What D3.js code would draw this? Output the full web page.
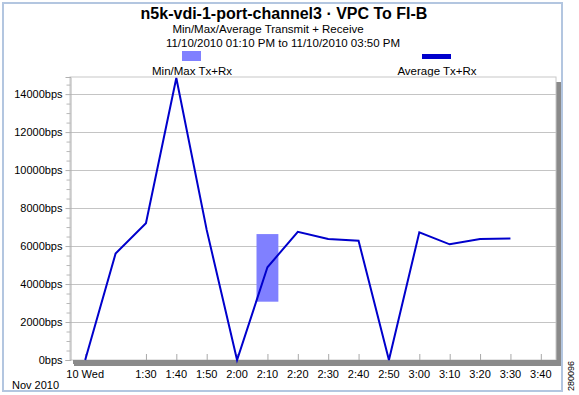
<!DOCTYPE html>
<html><head><meta charset="utf-8">
<script src="https://cdn.jsdelivr.net/npm/d3@7"></script>
<style>
html,body{margin:0;padding:0;background:#fff;}
svg{display:block;font-family:"Liberation Sans",Arial,sans-serif;}
</style></head>
<body>
<svg id="c" width="579" height="395"></svg>
<script>
// ---- data ----
const times = ["1:10","1:20","1:30","1:40","1:50","2:00","2:10","2:20","2:30","2:40","2:50","3:00","3:10","3:20","3:30"];
const avgTxRx = [0,5600,7200,14850,6850,0,4880,6750,6370,6280,0,6720,6090,6370,6400];
const minMaxTimes = ["2:10"];
const minTxRx = [3070];
const maxTxRx = [6630];
const xTickTimes = ["1:10","1:30","1:40","1:50","2:00","2:10","2:20","2:30","2:40","2:50","3:00","3:10","3:20","3:30","3:40"];
const xTickLabels = ["10 Wed","1:30","1:40","1:50","2:00","2:10","2:20","2:30","2:40","2:50","3:00","3:10","3:20","3:30","3:40"];
const yTicks = [0,2000,4000,6000,8000,10000,12000,14000];
const yMinorTicks = d3.range(0,15000,500);
const xDomain = ["1:05","3:45"];
const yMax = 14900;

const title = "n5k-vdi-1-port-channel3 \u00b7 VPC To FI-B";
const subtitle1 = "Min/Max/Average Transmit + Receive";
const subtitle2 = "11/10/2010 01:10 PM to 11/10/2010 03:50 PM";
const legendLabels = ["Min/Max Tx+Rx","Average Tx+Rx"];

// ---- helpers ----
const toMin = s => { const [h,m] = s.split(":").map(Number); return h*60+m; };

const svg = d3.select("#c");
const L = 70, R = 556, T = 77, B = 360;
const x = d3.scaleLinear().domain(xDomain.map(toMin)).range([L, R]);
const y = d3.scaleLinear().domain([0, yMax]).range([B, T]);

const lineColor = "#0000cc", barColor = "#8080ff";

// outer frame
svg.append("rect").attr("x",3).attr("y",3).attr("width",559).attr("height",388)
  .attr("fill","none").attr("stroke","#b3c6e0").attr("stroke-width",2);

// titles
svg.append("text").attr("x",284).attr("y",19).attr("text-anchor","middle")
  .attr("font-size",16).attr("font-weight","bold").text(title);
svg.append("text").attr("x",268).attr("y",33).attr("text-anchor","middle")
  .attr("font-size",11.5).text(subtitle1);
svg.append("text").attr("x",283).attr("y",47).attr("text-anchor","middle")
  .attr("font-size",11.5).text(subtitle2);

// legend
svg.append("rect").attr("x",182).attr("y",51).attr("width",19).attr("height",10).attr("fill",barColor);
svg.append("rect").attr("x",422).attr("y",54).attr("width",29).attr("height",5).attr("fill",lineColor);
svg.append("text").attr("x",192).attr("y",75).attr("text-anchor","middle").attr("font-size",11.5).text(legendLabels[0]);
svg.append("text").attr("x",437).attr("y",75).attr("text-anchor","middle").attr("font-size",11.5).text(legendLabels[1]);

// plot shadow + background
svg.append("rect").attr("x",L+4).attr("y",T+5).attr("width",R-L+1).attr("height",B-T+1).attr("fill","#8a8a8a");
svg.append("rect").attr("x",L).attr("y",T).attr("width",R-L).attr("height",B-T)
  .attr("fill","#fff").attr("stroke","#c8c8c8").attr("stroke-width",1);
// bottom thick axis
svg.append("rect").attr("x",L+3).attr("y",B).attr("width",R-L+1).attr("height",4).attr("fill","#8a8a8a");

// gridlines
svg.append("g").selectAll("line").data(yTicks.filter(d=>d>0)).join("line")
  .attr("x1",L).attr("x2",R).attr("y1",d=>Math.round(y(d))+0.5).attr("y2",d=>Math.round(y(d))+0.5)
  .attr("stroke","#c4c4c4").attr("stroke-width",1);

// y axis
const yAxis = d3.axisLeft(y).tickValues(yTicks).tickFormat(d=>d+"bps").tickSize(5).tickPadding(3);
const gy = svg.append("g").attr("transform",`translate(${L+0.5},0)`).call(yAxis);
gy.select(".domain").attr("stroke","#b0b0b0");
gy.selectAll(".tick line").attr("stroke","#b0b0b0");
gy.selectAll(".tick text").attr("font-size",11).attr("fill","#000").attr("font-family","Liberation Sans, Arial, sans-serif");
const yMinor = d3.axisLeft(y).tickValues(yMinorTicks.filter(d=>d%2000!==0)).tickFormat("").tickSize(4);
const gym = svg.append("g").attr("transform",`translate(${L+0.5},0)`).call(yMinor);
gym.select(".domain").remove();
gym.selectAll(".tick line").attr("stroke","#b8b8b8");

// x axis (ticks point up)
const xAxis = d3.axisTop(x).tickValues(xTickTimes.map(toMin)).tickFormat("").tickSize(6);
const gx = svg.append("g").attr("transform",`translate(0,${B})`).call(xAxis);
gx.select(".domain").remove();
gx.selectAll(".tick line").attr("stroke","#a8a8a8");
svg.append("g").selectAll("text").data(xTickTimes).join("text")
  .attr("x",(d)=>x(toMin(d))).attr("y",378).attr("text-anchor","middle").attr("font-size",11)
  .text((d,i)=>xTickLabels[i]);
svg.append("text").attr("x",12).attr("y",389).attr("font-size",11).text("Nov 2010");

// min/max bar
svg.append("g").selectAll("rect").data(minMaxTimes).join("rect")
  .attr("x",d=>x(toMin(d)-3.6)).attr("width",d=>x(toMin(d)+3.6)-x(toMin(d)-3.6))
  .attr("y",(d,i)=>y(maxTxRx[i])).attr("height",(d,i)=>y(minTxRx[i])-y(maxTxRx[i]))
  .attr("fill",barColor);

// average line
const line = d3.line().x((d,i)=>x(toMin(times[i]))).y(d=>y(d));
svg.append("path").datum(avgTxRx).attr("d",line).attr("fill","none")
  .attr("stroke",lineColor).attr("stroke-width",2).attr("stroke-linejoin","miter");

// figure number
svg.append("text").attr("transform","translate(574,376) rotate(-90)").attr("text-anchor","middle")
  .attr("font-size",9).text("280096");
</script>
</body></html>
